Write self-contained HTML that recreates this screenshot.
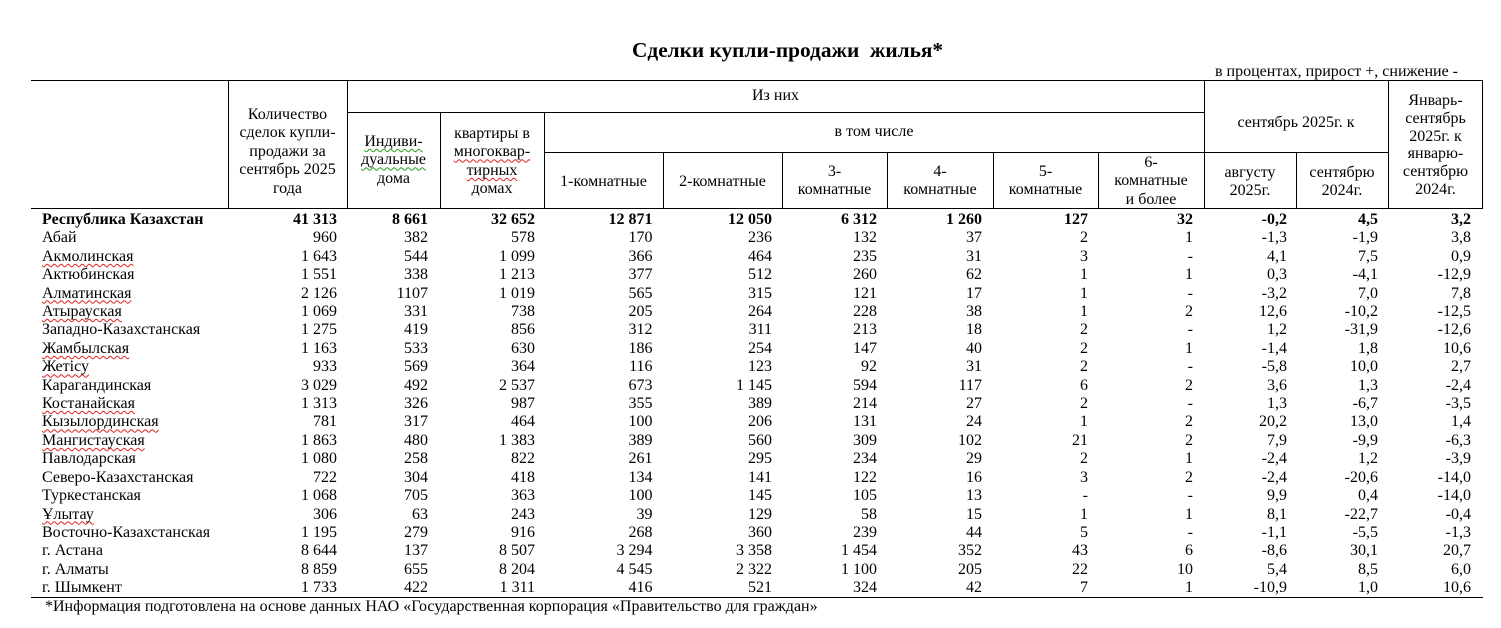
<!DOCTYPE html>
<html><head><meta charset="utf-8"><style>
*{margin:0;padding:0;box-sizing:border-box}
html,body{width:1501px;height:628px;background:#fff;overflow:hidden}
body{position:relative;font-family:"Liberation Serif","Noto Serif CJK SC",serif;color:#000;font-size:16px}
.a{position:absolute}
.h{position:absolute;height:1px;background:#000}
.v{position:absolute;width:1px;background:#000}
.t{position:absolute;text-align:center;line-height:18.4px;font-size:16px;white-space:nowrap}
.w{text-decoration:underline wavy #e02020;text-decoration-thickness:1px;text-underline-offset:2px;text-decoration-skip-ink:none}
.g{text-decoration:underline wavy #20a020;text-decoration-thickness:1px;text-underline-offset:2px;text-decoration-skip-ink:none}
table{position:absolute;left:31px;top:211px;width:1452px;table-layout:fixed;border-collapse:collapse}
td{padding:0;height:18.4px;line-height:18.4px;font-size:16px;white-space:nowrap;text-align:right;vertical-align:middle}
td:nth-child(1){text-align:left;padding-left:11px}
td:nth-child(2){padding-right:10px}
td:nth-child(3){padding-right:12px}
td:nth-child(4){padding-right:9px}
td:nth-child(5){padding-right:10.5px}
td:nth-child(6){padding-right:10px}
td:nth-child(7){padding-right:10px}
td:nth-child(8){padding-right:11px}
td:nth-child(9){padding-right:10px}
td:nth-child(10){padding-right:11px}
td:nth-child(11){padding-right:9px}
td:nth-child(12){padding-right:10px}
td:nth-child(13){padding-right:12px}
tr.b td{font-weight:bold}
</style></head><body>
<div class="a" style="left:632px;top:37px;font-size:21.33px;font-weight:bold;line-height:26px;white-space:nowrap">Сделки купли-продажи&nbsp; жилья*</div>
<div class="a" style="right:43px;top:62px;font-size:16px;line-height:20px;white-space:nowrap">в процентах, прирост +, снижение -</div>

<div class="h" style="left:31px;top:80px;width:1452px"></div>
<div class="h" style="left:347px;top:112px;width:857px"></div>
<div class="h" style="left:544px;top:152px;width:844px"></div>
<div class="h" style="left:31px;top:208px;width:1452px"></div>
<div class="h" style="left:31px;top:597px;width:1452px"></div>
<div class="v" style="left:228px;top:80px;height:128px"></div>
<div class="v" style="left:347px;top:80px;height:128px"></div>
<div class="v" style="left:440px;top:112px;height:96px"></div>
<div class="v" style="left:544px;top:112px;height:96px"></div>
<div class="v" style="left:663px;top:152px;height:56px"></div>
<div class="v" style="left:782px;top:152px;height:56px"></div>
<div class="v" style="left:887px;top:152px;height:56px"></div>
<div class="v" style="left:993px;top:152px;height:56px"></div>
<div class="v" style="left:1098px;top:152px;height:56px"></div>
<div class="v" style="left:1204px;top:80px;height:128px"></div>
<div class="v" style="left:1296px;top:152px;height:56px"></div>
<div class="v" style="left:1388px;top:80px;height:128px"></div>
<div class="v" style="left:1482px;top:80px;height:128px"></div>

<div class="t" style="left:228px;width:119px;top:106px">Количество<br>сделок купли-<br>продажи за<br>сентябрь 2025<br>года</div>
<div class="t" style="left:347px;width:93px;top:133px"><span class="g">Индиви-</span><br><span class="g">дуальные</span><br>дома</div>
<div class="t" style="left:440px;width:104px;top:125px">квартиры в<br><span class="w">многоквар-</span><br><span class="w">тирных</span><br>домах</div>
<div class="t" style="left:347px;width:857px;top:87px">Из них</div>
<div class="t" style="left:544px;width:660px;top:123px">в том числе</div>
<div class="t" style="left:544px;width:119px;top:173px">1-комнатные</div>
<div class="t" style="left:663px;width:119px;top:173px">2-комнатные</div>
<div class="t" style="left:782px;width:105px;top:163px">3-<br>комнатные</div>
<div class="t" style="left:887px;width:106px;top:163px">4-<br>комнатные</div>
<div class="t" style="left:993px;width:105px;top:163px">5-<br>комнатные</div>
<div class="t" style="left:1098px;width:106px;top:154px">6-<br>комнатные<br>и более</div>
<div class="t" style="left:1204px;width:184px;top:114px">сентябрь 2025г. к</div>
<div class="t" style="left:1204px;width:92px;top:164px">августу<br>2025г.</div>
<div class="t" style="left:1296px;width:92px;top:164px">сентябрю<br>2024г.</div>
<div class="t" style="left:1388px;width:95px;top:92px;line-height:17.8px">Январь-<br>сентябрь<br>2025г. к<br>январю-<br>сентябрю<br>2024г.</div>

<table>
<colgroup><col style="width:197px"><col style="width:119px"><col style="width:93px"><col style="width:104px"><col style="width:119px"><col style="width:119px"><col style="width:105px"><col style="width:106px"><col style="width:105px"><col style="width:106px"><col style="width:92px"><col style="width:92px"><col style="width:95px"></colgroup>
<tr class="b"><td>Республика Казахстан</td><td>41 313</td><td>8 661</td><td>32 652</td><td>12 871</td><td>12 050</td><td>6 312</td><td>1 260</td><td>127</td><td>32</td><td>-0,2</td><td>4,5</td><td>3,2</td></tr>
<tr><td>Абай</td><td>960</td><td>382</td><td>578</td><td>170</td><td>236</td><td>132</td><td>37</td><td>2</td><td>1</td><td>-1,3</td><td>-1,9</td><td>3,8</td></tr>
<tr><td><span class="w">Акмолинская</span></td><td>1 643</td><td>544</td><td>1 099</td><td>366</td><td>464</td><td>235</td><td>31</td><td>3</td><td>-</td><td>4,1</td><td>7,5</td><td>0,9</td></tr>
<tr><td>Актюбинская</td><td>1 551</td><td>338</td><td>1 213</td><td>377</td><td>512</td><td>260</td><td>62</td><td>1</td><td>1</td><td>0,3</td><td>-4,1</td><td>-12,9</td></tr>
<tr><td><span class="w">Алматинская</span></td><td>2 126</td><td>1107</td><td>1 019</td><td>565</td><td>315</td><td>121</td><td>17</td><td>1</td><td>-</td><td>-3,2</td><td>7,0</td><td>7,8</td></tr>
<tr><td><span class="w">Атырауская</span></td><td>1 069</td><td>331</td><td>738</td><td>205</td><td>264</td><td>228</td><td>38</td><td>1</td><td>2</td><td>12,6</td><td>-10,2</td><td>-12,5</td></tr>
<tr><td>Западно-Казахстанская</td><td>1 275</td><td>419</td><td>856</td><td>312</td><td>311</td><td>213</td><td>18</td><td>2</td><td>-</td><td>1,2</td><td>-31,9</td><td>-12,6</td></tr>
<tr><td><span class="w">Жамбылская</span></td><td>1 163</td><td>533</td><td>630</td><td>186</td><td>254</td><td>147</td><td>40</td><td>2</td><td>1</td><td>-1,4</td><td>1,8</td><td>10,6</td></tr>
<tr><td><span class="w">Жетісу</span></td><td>933</td><td>569</td><td>364</td><td>116</td><td>123</td><td>92</td><td>31</td><td>2</td><td>-</td><td>-5,8</td><td>10,0</td><td>2,7</td></tr>
<tr><td>Карагандинская</td><td>3 029</td><td>492</td><td>2 537</td><td>673</td><td>1 145</td><td>594</td><td>117</td><td>6</td><td>2</td><td>3,6</td><td>1,3</td><td>-2,4</td></tr>
<tr><td><span class="w">Костанайская</span></td><td>1 313</td><td>326</td><td>987</td><td>355</td><td>389</td><td>214</td><td>27</td><td>2</td><td>-</td><td>1,3</td><td>-6,7</td><td>-3,5</td></tr>
<tr><td><span class="w">Кызылординская</span></td><td>781</td><td>317</td><td>464</td><td>100</td><td>206</td><td>131</td><td>24</td><td>1</td><td>2</td><td>20,2</td><td>13,0</td><td>1,4</td></tr>
<tr><td><span class="w">Мангистауская</span></td><td>1 863</td><td>480</td><td>1 383</td><td>389</td><td>560</td><td>309</td><td>102</td><td>21</td><td>2</td><td>7,9</td><td>-9,9</td><td>-6,3</td></tr>
<tr><td>Павлодарская</td><td>1 080</td><td>258</td><td>822</td><td>261</td><td>295</td><td>234</td><td>29</td><td>2</td><td>1</td><td>-2,4</td><td>1,2</td><td>-3,9</td></tr>
<tr><td>Северо-Казахстанская</td><td>722</td><td>304</td><td>418</td><td>134</td><td>141</td><td>122</td><td>16</td><td>3</td><td>2</td><td>-2,4</td><td>-20,6</td><td>-14,0</td></tr>
<tr><td>Туркестанская</td><td>1 068</td><td>705</td><td>363</td><td>100</td><td>145</td><td>105</td><td>13</td><td>-</td><td>-</td><td>9,9</td><td>0,4</td><td>-14,0</td></tr>
<tr><td><span class="w">Ұлытау</span></td><td>306</td><td>63</td><td>243</td><td>39</td><td>129</td><td>58</td><td>15</td><td>1</td><td>1</td><td>8,1</td><td>-22,7</td><td>-0,4</td></tr>
<tr><td>Восточно-Казахстанская</td><td>1 195</td><td>279</td><td>916</td><td>268</td><td>360</td><td>239</td><td>44</td><td>5</td><td>-</td><td>-1,1</td><td>-5,5</td><td>-1,3</td></tr>
<tr><td>г. Астана</td><td>8 644</td><td>137</td><td>8 507</td><td>3 294</td><td>3 358</td><td>1 454</td><td>352</td><td>43</td><td>6</td><td>-8,6</td><td>30,1</td><td>20,7</td></tr>
<tr><td>г. Алматы</td><td>8 859</td><td>655</td><td>8 204</td><td>4 545</td><td>2 322</td><td>1 100</td><td>205</td><td>22</td><td>10</td><td>5,4</td><td>8,5</td><td>6,0</td></tr>
<tr><td>г. Шымкент</td><td>1 733</td><td>422</td><td>1 311</td><td>416</td><td>521</td><td>324</td><td>42</td><td>7</td><td>1</td><td>-10,9</td><td>1,0</td><td>10,6</td></tr>
</table>

<div class="a" style="left:45px;top:598px;font-size:16px;line-height:18px;white-space:nowrap">*Информация подготовлена на основе данных НАО «Государственная корпорация «Правительство для граждан»</div>
</body></html>
